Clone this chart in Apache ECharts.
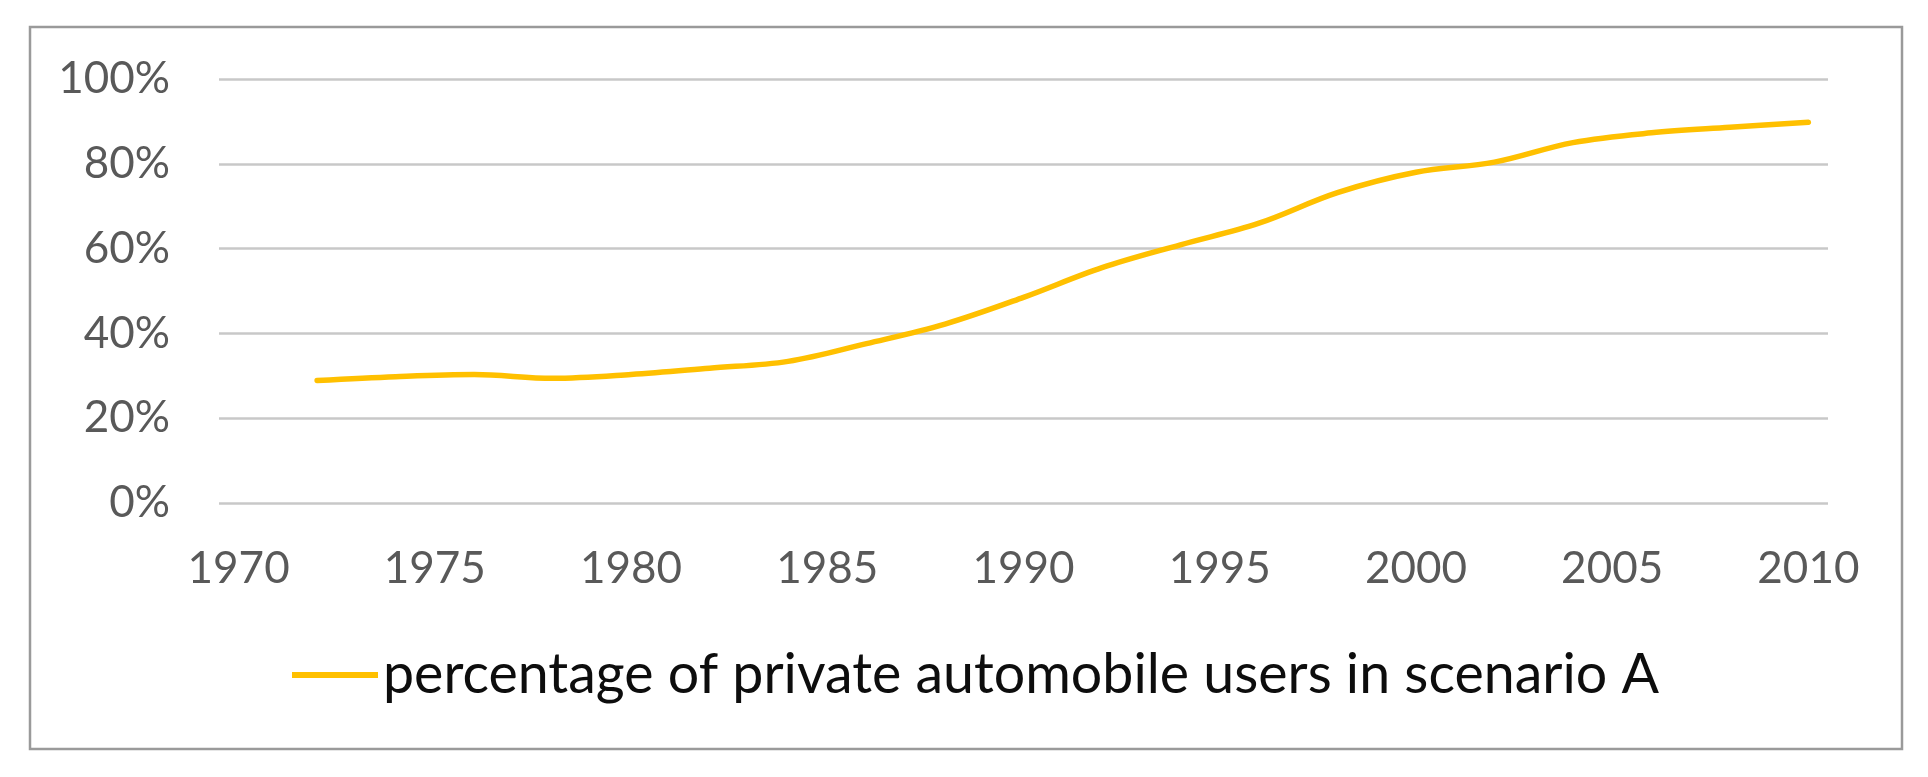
<!DOCTYPE html>
<html>
<head>
<meta charset="utf-8">
<script src="https://cdn.jsdelivr.net/npm/echarts@6/dist/echarts.min.js"></script>
<style>
  html, body { margin: 0; padding: 0; background: #ffffff; }
  #chart { width: 1928px; height: 777px; }
</style>
</head>
<body>
<div id="chart"></div>
<script>
// ---- data ----
const years = [1972, 1974, 1976, 1978, 1980, 1982, 1984, 1986, 1988, 1990,
               1992, 1994, 1996, 1998, 2000, 2002, 2004, 2006, 2008, 2010];
const privateCarShare = [28.9, 29.8, 30.3, 29.4, 30.3, 31.8, 33.4, 37.6, 42.2, 48.5,
                         55.5, 60.9, 66.0, 73.2, 78.0, 80.4, 85.0, 87.3, 88.6, 89.8];
const xTickLabels = [1970, 1975, 1980, 1985, 1990, 1995, 2000, 2005, 2010];
const seriesName = 'percentage of private automobile users in scenario A';

const points = years.map((y, i) => [y, privateCarShare[i]]);

const chart = echarts.init(document.getElementById('chart'), null, { renderer: 'canvas' });
chart.setOption({
  backgroundColor: '#ffffff',
  animation: false,
  textStyle: { fontFamily: 'Lato, sans-serif' },
  graphic: [{
    type: 'rect',
    shape: { x: 30, y: 27, width: 1872, height: 722 },
    style: { fill: 'none', stroke: '#9a9a9a', lineWidth: 2.5 },
    silent: true
  }],
  grid: { left: 219, right: 100, top: 79, bottom: 274, containLabel: false },
  legend: {
    left: 287,
    top: 642,
    icon: 'rect',
    itemWidth: 86,
    itemHeight: 6,
    itemGap: 10,
    textStyle: { fontFamily: 'Lato, sans-serif', fontSize: 55.5, color: '#0d0d0d' },
    data: [seriesName]
  },
  xAxis: {
    type: 'value',
    min: 1969.5,
    max: 2010.5,
    axisLine: { show: false },
    axisTick: { show: false },
    splitLine: { show: false },
    axisLabel: {
      customValues: xTickLabels,
      formatter: v => String(v),
      fontSize: 44,
      color: '#595959',
      margin: 44,
      fontFamily: 'Lato, sans-serif'
    }
  },
  yAxis: {
    type: 'value',
    min: 0,
    max: 100,
    interval: 20,
    axisLine: { show: false },
    axisTick: { show: false },
    splitLine: { show: true, lineStyle: { color: '#c8c8c8', width: 2.5 } },
    axisLabel: {
      formatter: '{value}%',
      fontSize: 44,
      color: '#595959',
      margin: 49,
      fontFamily: 'Lato, sans-serif'
    }
  },
  series: [{
    name: seriesName,
    type: 'line',
    data: points,
    smooth: 0.35,
    symbol: 'none',
    lineStyle: { color: '#FFC000', width: 5.5, cap: 'round' },
    itemStyle: { color: '#FFC000' }
  }]
});
</script>
</body>
</html>
